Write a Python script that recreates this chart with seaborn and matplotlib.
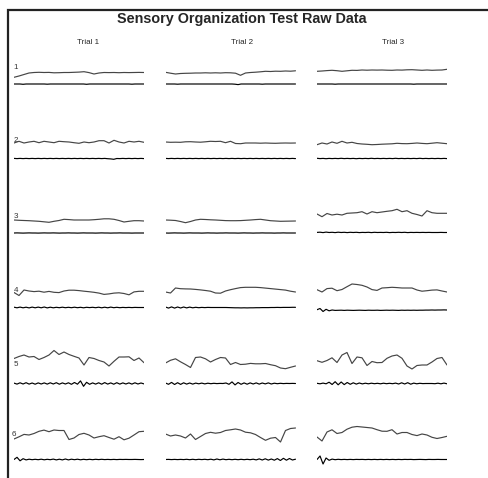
import numpy as np
import matplotlib
matplotlib.use("Agg")
import matplotlib.pyplot as plt
from matplotlib.patches import Rectangle
import seaborn as sns

sns.set_style("white")
plt.rcParams["font.family"] = ["Liberation Sans", "DejaVu Sans"]

TITLE = "Sensory Organization Test Raw Data"
TRIALS = ["Trial 1", "Trial 2", "Trial 3"]
CONDITIONS = ["1", "2", "3", "4", "5", "6"]
TRIAL_SECONDS = 20

# Centre-of-gravity sway traces (upper channel), one list per condition / trial
cog_c1_t1 = [6.7, 8, 9.5, 11, 11.5, 11.7, 11.5, 11.6, 11.2, 11.3, 11.5, 11.5, 11.7, 11.9, 12.3, 11.4, 10, 11, 11.5, 11.4, 11.5, 11.3, 11.5, 11.4, 11.5, 11.6, 11.5]
cog_c1_t2 = [11.7, 10.8, 10, 10.5, 10.7, 10.8, 11, 11, 11.2, 11, 11.2, 11, 11.3, 11.2, 10.8, 8.7, 11, 11.5, 11.8, 12.2, 12.7, 12.5, 12.8, 12.7, 13, 12.8, 13.2]
cog_c1_t3 = [12.7, 13, 13.4, 13.7, 13.3, 12.7, 13.2, 13.7, 13.6, 14, 13.8, 14, 13.9, 14, 13.8, 13.7, 14, 13.9, 14.2, 14.3, 14, 13.7, 14, 13.7, 13.9, 14, 14.7]

cog_c2_t1 = [15.5, 17.2, 15.5, 16.5, 17.2, 15.8, 17.2, 16.5, 15.8, 17.2, 16.8, 16.5, 15.8, 15.2, 16.5, 15.8, 16.5, 17.8, 17.8, 15.5, 18.2, 16.5, 15.5, 17.2, 16.5, 17.2, 16.2]
cog_c2_t2 = [16.5, 16.2, 16.3, 16.2, 16.7, 16.8, 16.5, 16.3, 16.7, 17.2, 17, 17.2, 15.8, 17.2, 15, 14.8, 15.5, 15.5, 15.5, 15.3, 15.5, 15.3, 15.2, 15.4, 15.5, 15.4, 15.5]
cog_c2_t3 = [13.8, 15.5, 14.5, 16.5, 15.2, 17.2, 15.5, 16.2, 15, 14.5, 14.2, 13.8, 14, 14.3, 14.5, 14.7, 15.2, 14.9, 14.8, 15.1, 15.5, 15.1, 14.8, 15.3, 15.8, 15.3, 14.8]

cog_c3_t1 = [13, 12.7, 12.5, 12.3, 12, 11.7, 11.2, 10.7, 11.7, 12.5, 13.7, 13.4, 13, 13, 13, 13, 13.3, 13.7, 14.2, 14.2, 13.7, 12.5, 11, 11.7, 12.3, 12.3, 12]
cog_c3_t2 = [13, 12.8, 12.5, 11.5, 10.3, 11.5, 13, 13.7, 13.5, 13.2, 13, 12.7, 12.4, 12.3, 12.3, 12.4, 12.7, 13, 13.4, 13.7, 13, 12.3, 12, 11.7, 11.8, 11.9, 12]
cog_c3_t3 = [19, 16.3, 19.5, 18, 18.8, 18, 19.7, 20, 20.3, 21.3, 19, 21.3, 20.3, 21, 21.7, 22.3, 23.7, 21.3, 22.3, 19.7, 18.5, 17, 22.3, 20.3, 19.7, 19.7, 19.7]

cog_c4_t1 = [15, 12, 17.5, 16.5, 15.9, 16.3, 15.3, 16.1, 15.2, 14.9, 16.5, 17.3, 17.3, 16.9, 16.3, 15.8, 15.2, 14.4, 13.1, 13.6, 14.4, 14.7, 14, 12.7, 15.6, 16.2, 16.2]
cog_c4_t2 = [15.5, 14.5, 19.5, 18.8, 18.6, 18.5, 18.1, 17.6, 17, 16.3, 14.5, 14.3, 16.5, 17.8, 18.9, 19.9, 20.2, 20.2, 20.2, 19.9, 19.4, 18.9, 18.4, 17.9, 17.4, 16.3, 15.5]
cog_c4_t3 = [17.8, 15.5, 18.9, 19.3, 16.8, 18, 20.8, 23.5, 23, 22.2, 20.5, 17.9, 17.1, 19.5, 19.8, 20.2, 19.9, 19.5, 19.5, 19.5, 17.5, 16.3, 16.8, 17.4, 17.6, 16.5, 15.5]

cog_c5_t1 = [25, 27, 28.5, 26.5, 27, 24, 26, 28.5, 33, 29, 31.5, 29, 27.2, 25.5, 18.5, 26, 25, 23, 21.5, 17.5, 22.2, 26.5, 26.5, 26.7, 23, 25.5, 20.8]
cog_c5_t2 = [20.5, 23.2, 24.7, 21.7, 19, 16, 26, 26.5, 24.7, 21.5, 24, 26, 25.5, 19, 21, 19, 19.3, 20.1, 19.7, 19.7, 20, 18.8, 17.8, 15.5, 14.8, 16.2, 17.5]
cog_c5_t3 = [22.8, 21.2, 23, 25.7, 21, 28.5, 31, 20, 26.5, 25.7, 18, 22, 20.8, 21, 25.2, 27.5, 28.5, 25.2, 17.5, 14.5, 18, 18.5, 18.5, 21.5, 25, 26, 18.5]

cog_c6_t1 = [20.5, 22.7, 25.1, 24.5, 26, 28.2, 29.4, 27.8, 29.5, 29, 29, 20, 21.5, 25, 26.2, 24.5, 21.5, 22.8, 23.8, 22, 20.3, 22.8, 19.7, 21.3, 24.5, 27.8, 28.2]
cog_c6_t2 = [25.5, 23.5, 24.5, 23.5, 21.5, 25.5, 20, 23, 26, 27.2, 26.3, 27, 29, 29.7, 30.5, 29.5, 27.3, 26.7, 25, 22, 19.2, 21.3, 22, 17.5, 29, 31, 31.5]
cog_c6_t3 = [22.5, 18.5, 27.5, 29.7, 26, 27, 30.3, 32.3, 33, 32.5, 32, 31.5, 29.8, 28.3, 28.2, 29.8, 25.5, 27, 27, 25, 23.9, 25.5, 24.5, 22.2, 21, 22, 23.2]

# Shear force traces (lower channel)
shear_c1_t1 = [0, 0, 0, -0.3, 0, 0, 0, 0, 0, 0, 0, -0.2, 0, 0, 0, 0, 0, 0, 0, 0, 0, 0, 0, 0, -0.3, 0, 0, 0, 0, 0, 0, 0, 0, 0, 0, 0, 0, 0, 0, -0.2, 0, 0, 0, 0]
shear_c1_t2 = [0, 0, 0, 0, -0.2, 0, 0, 0, 0, 0, 0, 0, 0, 0, 0, 0, 0, 0, 0, 0, 0, 0, 0, -0.2, -0.6, 0, 0, 0, 0, 0, 0, 0, -0.2, 0, 0, 0, 0, 0, 0, 0, 0, 0, 0, 0]
shear_c1_t3 = [0, 0, 0, 0, 0, 0, -0.2, 0, 0, 0, 0, 0, 0, 0, 0, 0, 0, 0, 0, 0, 0, 0, 0, 0, 0, 0, 0, 0, 0, 0, 0, 0, -0.2, 0, 0, 0, 0, 0, 0, 0, 0, 0, 0, 0]

shear_c2_t1 = [0.1, -0.1, 0.1, -0.1, 0.1, -0.1, 0.1, -0.1, 0.1, -0.1, 0.1, -0.1, 0.1, -0.1, 0.1, -0.1, 0.1, -0.1, 0.1, -0.1, 0.1, -0.1, 0.1, -0.1, 0.1, -0.1, 0.1, -0.1, 0.1, -0.1, 0.1, -0.2, -0.4, -0.8, 0, -0.1, 0.1, -0.1, 0.1, -0.1, 0.1, -0.1, 0.1, -0.1]
shear_c2_t2 = [0.1, -0.1, 0.1, -0.1, 0.1, -0.1, 0.1, -0.1, 0.1, -0.1, 0.1, -0.1, 0.1, -0.1, 0.1, -0.1, 0.1, -0.1, 0.1, -0.1, 0.1, -0.1, 0.1, -0.1, 0.1, -0.1, 0.1, -0.1, 0.1, -0.1, 0.1, -0.1, 0.1, -0.1, 0.1, -0.1, 0.1, -0.1, 0.1, -0.1, 0.1, -0.1, 0.1, -0.1]
shear_c2_t3 = [0.2, -0.1, 0.1, -0.2, 0.1, -0.1, 0.1, -0.1, 0.2, -0.1, 0.1, -0.1, 0.1, -0.2, 0.1, -0.1, 0.1, -0.1, 0.2, -0.1, 0.1, -0.1, 0.1, -0.1, 0.1, -0.1, 0.2, -0.1, 0.1, -0.1, 0.1, -0.1, 0.1, -0.1, 0.2, -0.1, 0.1, -0.1, 0.1, -0.1, 0.1, -0.1, 0.1, -0.1]

shear_c3_t1 = [0, 0.1, 0, -0.1, 0, 0.1, 0, 0, -0.1, 0, 0.1, 0, 0, 0.1, 0, -0.1, 0, 0, 0.1, 0, 0, -0.1, 0, 0.1, 0, 0, 0, -0.1, 0, 0.1, 0, 0, -0.1, 0, 0, 0.1, 0, 0, 0, -0.1, 0, 0, 0, 0]
shear_c3_t2 = [0, -0.1, 0, 0.1, 0, 0, -0.1, 0, 0.1, 0, 0, 0, -0.1, 0, 0.1, 0, 0, -0.1, 0, 0, 0.1, 0, 0, 0, -0.1, 0, 0.1, 0, 0, -0.1, 0, 0, 0.1, 0, 0, 0, -0.1, 0, 0, 0.1, 0, 0, 0, 0]
shear_c3_t3 = [0.6, 0.8, 0.4, 0.9, 0.5, 0.7, 0.4, 0.8, 0.5, 0.7, 0.4, 0.7, 0.5, 0.7, 0.4, 0.6, 0.5, 0.7, 0.4, 0.7, 0.5, 0.6, 0.5, 0.7, 0.4, 0.6, 0.5, 0.7, 0.5, 0.7, 0.4, 0.6, 0.5, 0.6, 0.5, 0.6, 0.5, 0.6, 0.5, 0.5, 0.5, 0.6, 0.5, 0.5]

shear_c4_t1 = [0.3, -0.3, 0.4, -0.3, 0.3, -0.4, 0.4, -0.3, 0.4, -0.3, 0.5, -0.4, 0.3, -0.3, 0.2, -0.2, 0.3, -0.2, 0.2, -0.2, 0.3, -0.2, 0.2, -0.3, 0.2, -0.1, 0.2, -0.2, 0.3, -0.3, 0.3, -0.3, 0.4, -0.2, 0.2, -0.2, 0.1, -0.1, 0.1, -0.1, 0.1, 0, 0, 0]
shear_c4_t2 = [0.5, -0.6, 0.6, -0.6, 0.5, -0.5, 0.5, -0.4, 0.4, -0.3, 0.2, -0.2, 0.1, -0.1, 0.1, 0, 0, 0, 0, 0, 0, -0.1, -0.2, -0.3, -0.3, -0.4, -0.3, -0.4, -0.3, -0.3, -0.2, -0.2, -0.1, -0.1, -0.1, 0, 0, 0.1, 0, 0.1, 0.1, 0.1, 0.2, 0.2]
shear_c4_t3 = [-2.2, -1, -4, -1.8, -3.3, -2.5, -2.9, -2.8, -2.7, -2.9, -2.7, -2.8, -2.9, -2.8, -2.7, -2.8, -2.9, -2.7, -2.8, -2.8, -2.7, -2.9, -2.8, -2.7, -2.8, -2.7, -2.8, -2.9, -2.7, -2.8, -2.7, -2.8, -2.7, -2.8, -2.7, -2.7, -2.6, -2.6, -2.5, -2.6, -2.5, -2.5, -2.4, -2.5]

shear_c5_t1 = [0.4, -0.6, 0.7, -0.5, 0.8, -0.6, 0.5, -0.7, 0.6, -0.5, 0.6, -0.6, 0.7, -0.5, 0.8, -0.7, 0.6, -0.5, 0.7, -0.8, 1, -0.7, 2.6, -2.8, 1.2, -0.8, 0.6, -0.6, 0.7, -0.7, 0.9, -0.6, 0.6, -0.7, 0.8, -0.6, 0.6, -0.5, 0.6, -0.6, 0.7, -0.5, 0.5, -0.4]
shear_c5_t2 = [0.5, -0.8, 1.1, -1, 0.8, -0.9, 0.7, -0.6, 0.5, -0.6, 0.4, -0.3, 0.4, -0.4, 0.3, -0.2, 0.2, -0.1, 0.1, 0, 0.5, -0.8, 1.6, -1.4, 1, -0.8, 0.6, -0.7, 0.6, -0.5, 0.6, -0.6, 0.5, -0.4, 0.6, -0.5, 0.3, -0.2, 0.2, -0.1, 0.1, 0, 0.1, 0]
shear_c5_t3 = [0.2, -0.3, 0.4, -0.3, 1.3, -1, 1.8, -1.3, 1.5, -1.1, 1, -0.8, 0.7, -0.6, 0.5, -0.4, 0.3, -0.3, 0.3, -0.2, 0.2, -0.3, 0.3, -0.2, 0.2, -0.2, 0.4, -0.5, 0.7, -0.5, 0.8, -0.7, 0.4, -0.3, 0.2, -0.1, 0, 0, 0, -0.2, 0.3, -0.3, 0.4, -0.3]

shear_c6_t1 = [0, 2.2, -1.3, 0.8, -0.4, 0.3, -0.2, 0.2, -0.2, 0.3, -0.3, 0.2, -0.2, 0.4, -0.4, 0.3, -0.4, 0.5, -0.4, 0.3, -0.2, 0.3, -0.3, 0.2, -0.2, 0.2, -0.2, 0.2, -0.1, 0.2, -0.1, 0.1, -0.1, 0.1, -0.1, 0.1, 0, 0.1, 0, 0, 0.1, 0, -0.1, 0]
shear_c6_t2 = [0, 0.1, -0.1, 0.1, -0.1, 0.1, -0.1, 0.2, -0.2, 0.2, -0.2, 0.2, -0.1, 0.2, -0.2, 0.3, -0.4, 0.5, -0.3, 0.4, -0.2, 0.2, -0.2, 0.2, -0.2, 0.2, -0.2, 0.2, -0.2, 0.3, -0.4, 0.6, -0.5, 0.7, -0.6, 0.5, -0.7, 0.9, -1, 1.2, -0.7, 1, -0.5, 0.3]
shear_c6_t3 = [0, 3.5, -4.5, 1.5, -0.8, 0.4, -0.2, 0.2, -0.1, 0.1, -0.1, 0.1, -0.1, 0.1, 0, 0.1, -0.1, 0.1, -0.1, 0.1, -0.1, 0.1, -0.1, 0.1, -0.1, 0.1, -0.1, 0.1, -0.1, 0.1, 0, 0.1, -0.1, 0, 0.1, 0, -0.1, 0.1, 0, 0, 0.1, 0, 0, 0]

COG = [
    [cog_c1_t1, cog_c1_t2, cog_c1_t3],
    [cog_c2_t1, cog_c2_t2, cog_c2_t3],
    [cog_c3_t1, cog_c3_t2, cog_c3_t3],
    [cog_c4_t1, cog_c4_t2, cog_c4_t3],
    [cog_c5_t1, cog_c5_t2, cog_c5_t3],
    [cog_c6_t1, cog_c6_t2, cog_c6_t3],
]
SHEAR = [
    [shear_c1_t1, shear_c1_t2, shear_c1_t3],
    [shear_c2_t1, shear_c2_t2, shear_c2_t3],
    [shear_c3_t1, shear_c3_t2, shear_c3_t3],
    [shear_c4_t1, shear_c4_t2, shear_c4_t3],
    [shear_c5_t1, shear_c5_t2, shear_c5_t3],
    [shear_c6_t1, shear_c6_t2, shear_c6_t3],
]

# ---- layout (pixels of the 489 x 478 canvas) ----
W, H = 489, 478
COL_LEFT = [14, 165.5, 317]
CELL_W = 130
ROW_BASE = [84, 158.5, 233, 307.5, 383.5, 459.5]
CELL_BELOW, CELL_ABOVE = 12, 48
LABEL_POS = [(16, 67), (16, 141), (16, 216), (16, 290), (16, 364), (14, 434)]
TRIAL_X = [88, 242, 393]

fig = plt.figure(figsize=(W / 100, H / 100), dpi=100)
fig.patch.set_facecolor("white")

# page frame (left and top edges)
fig.add_artist(Rectangle((8 / W, -0.1), 1.2, 1.1 - 10 / H, transform=fig.transFigure,
                         fill=False, lw=1.6, ec="#222222"))

fig.text(242 / W, 1 - 19 / H, TITLE, ha="center", va="center",
         fontsize=10.4, fontweight="bold")
for x, name in zip(TRIAL_X, TRIALS):
    fig.text(x / W, 1 - 43 / H, name, ha="center", va="center", fontsize=5.8)

for r, base in enumerate(ROW_BASE):
    for c, left in enumerate(COL_LEFT):
        ax = fig.add_axes([left / W, 1 - (base + CELL_BELOW) / H,
                           CELL_W / W, (CELL_BELOW + CELL_ABOVE) / H])
        up = COG[r][c]
        lo = SHEAR[r][c]
        sns.lineplot(x=np.linspace(0, TRIAL_SECONDS, len(up)), y=up, ax=ax,
                     color="#454545", lw=0.85, estimator=None)
        sns.lineplot(x=np.linspace(0, TRIAL_SECONDS, len(lo)), y=lo, ax=ax,
                     color="#000000", lw=0.85, estimator=None)
        ax.set_xlim(0, TRIAL_SECONDS)
        ax.set_ylim(-CELL_BELOW, CELL_ABOVE)
        ax.axis("off")

for (x, y), name in zip(LABEL_POS, CONDITIONS):
    fig.text(x / W, 1 - y / H, name, ha="center", va="center", fontsize=5.8,
             color="#333333")

fig.savefig("out.png", dpi=100, facecolor="white")
